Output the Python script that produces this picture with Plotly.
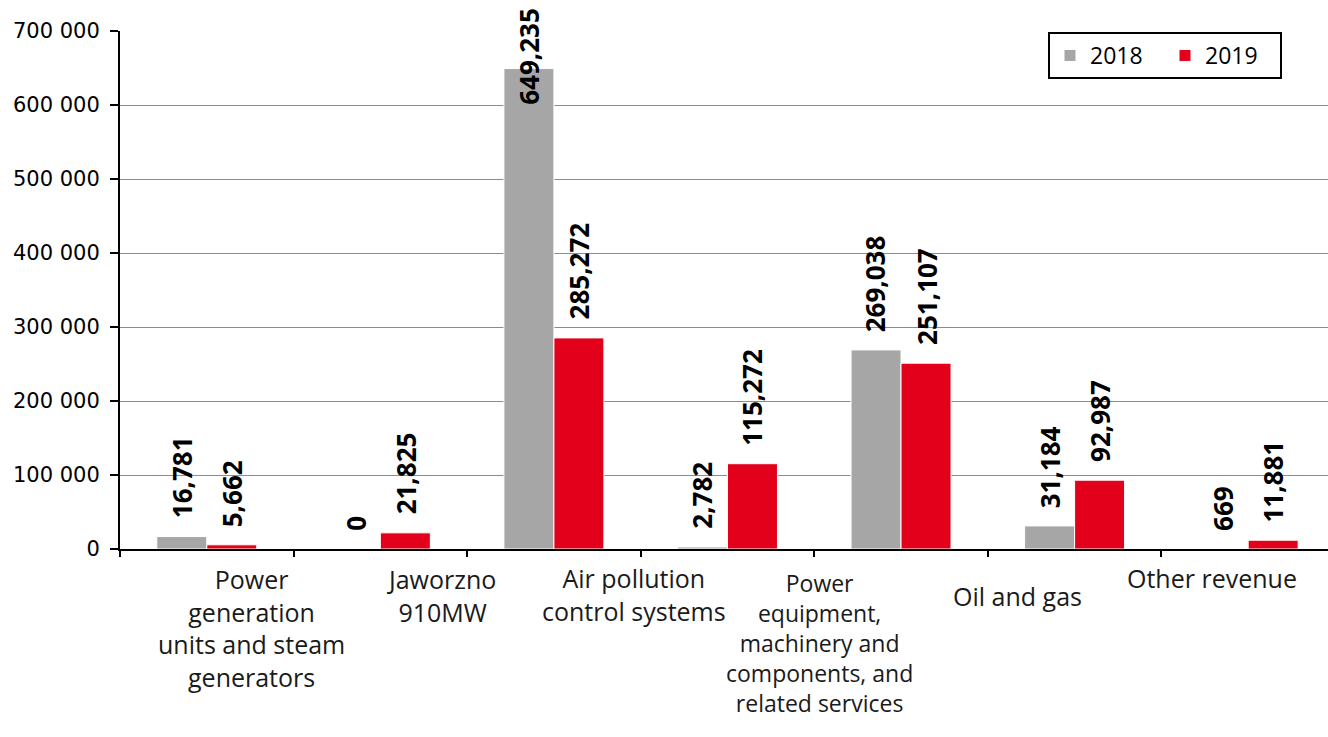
import plotly.graph_objects as go

# Revenue by segment, 2018 vs 2019
group_labels = [
    "Power<br>generation<br>units and steam<br>generators",
    "Jaworzno<br>910MW",
    "Air pollution<br>control systems",
    "Power<br>equipment,<br>machinery and<br>components, and<br>related services",
    "Oil and gas",
    "Other revenue",
]
values_2018 = [16781, 0, 649235, 2782, 269038, 31184, 669]
values_2019 = [5662, 21825, 285272, 115272, 251107, 92987, 11881]
series_names = ["2018", "2019"]
y_ticks = [0, 100000, 200000, 300000, 400000, 500000, 600000, 700000]

# layout helpers: where each category caption sits on the x axis (axis units)
label_x = [0.26, 1.35, 2.46, 3.53, 4.67, 5.79]
label_drop = [11, 11, 10, 16, 28, 10]
label_size = [25, 25, 25, 23, 25, 25]

GREY = "#a6a6a6"
RED = "#e2001a"
n = len(values_2018)
xs = list(range(n))
BAR_OFF = 0.145

fig = go.Figure()
for name, vals, col in [(series_names[0], values_2018, GREY),
                        (series_names[1], values_2019, RED)]:
    fig.add_trace(go.Bar(
        x=xs, y=vals, name=name,
        marker=dict(color=col, line=dict(color="white", width=1)),
        hoverinfo="skip",
    ))

annotations = []
value_font = dict(family="Open Sans", size=26, color="black")
for i in range(n):
    for vals, off in [(values_2018, -BAR_OFF), (values_2019, BAR_OFF)]:
        v = vals[i]
        shift = 16
        if v > 600000:
            shift = -38
        annotations.append(dict(
            x=i + off, y=v, xref="x", yref="y",
            text="<b>{:,}</b>".format(v),
            textangle=-90, showarrow=False,
            xanchor="center", yanchor="bottom", yshift=shift,
            font=value_font,
        ))

for txt, lx, dy, fs in zip(group_labels, label_x, label_drop, label_size):
    annotations.append(dict(
        x=lx, y=0, xref="x", yref="y", text=txt, showarrow=False,
        xanchor="center", yanchor="top", yshift=-dy, align="center",
        font=dict(family="Open Sans", size=fs, color="#1a1a1a"),
    ))

fig.update_layout(
    width=1328, height=737,
    margin=dict(l=120, r=0, t=31, b=188, autoexpand=False),
    paper_bgcolor="white", plot_bgcolor="white",
    barmode="group", bargap=0.424, bargroupgap=0,
    separators=". ",
    showlegend=True,
    legend=dict(
        orientation="h", x=(1048 - 120) / 1208, y=(737 - 32) / 737,
        xref="paper", yref="container",
        xanchor="left", yanchor="top",
        bgcolor="white", bordercolor="black", borderwidth=2,
        font=dict(family="Open Sans", size=23, color="black"),
        entrywidth=70, entrywidthmode="pixels",
        itemclick=False,
    ),
    annotations=annotations,
)
fig.update_xaxes(
    range=[-0.5, 6.46], showgrid=False, zeroline=False,
    showline=True, linecolor="black", linewidth=2,
    tickmode="array", tickvals=[i - 0.5 for i in range(n + 1)],
    ticktext=[""] * (n + 1), ticks="outside", ticklen=6, tickwidth=1.5,
    tickcolor="black",
)
fig.update_yaxes(
    range=[0, 700000], tickmode="array", tickvals=y_ticks,
    tickformat=",d", showgrid=True, gridcolor="#8c8c8c", gridwidth=1.2,
    zeroline=False, showline=True, linecolor="black", linewidth=2,
    ticks="outside", ticklen=8, tickwidth=1.5, tickcolor="black",
    ticklabelstandoff=6,
    tickfont=dict(family="DejaVu Sans", size=21, color="black"),
)

fig.write_html("out.html")
